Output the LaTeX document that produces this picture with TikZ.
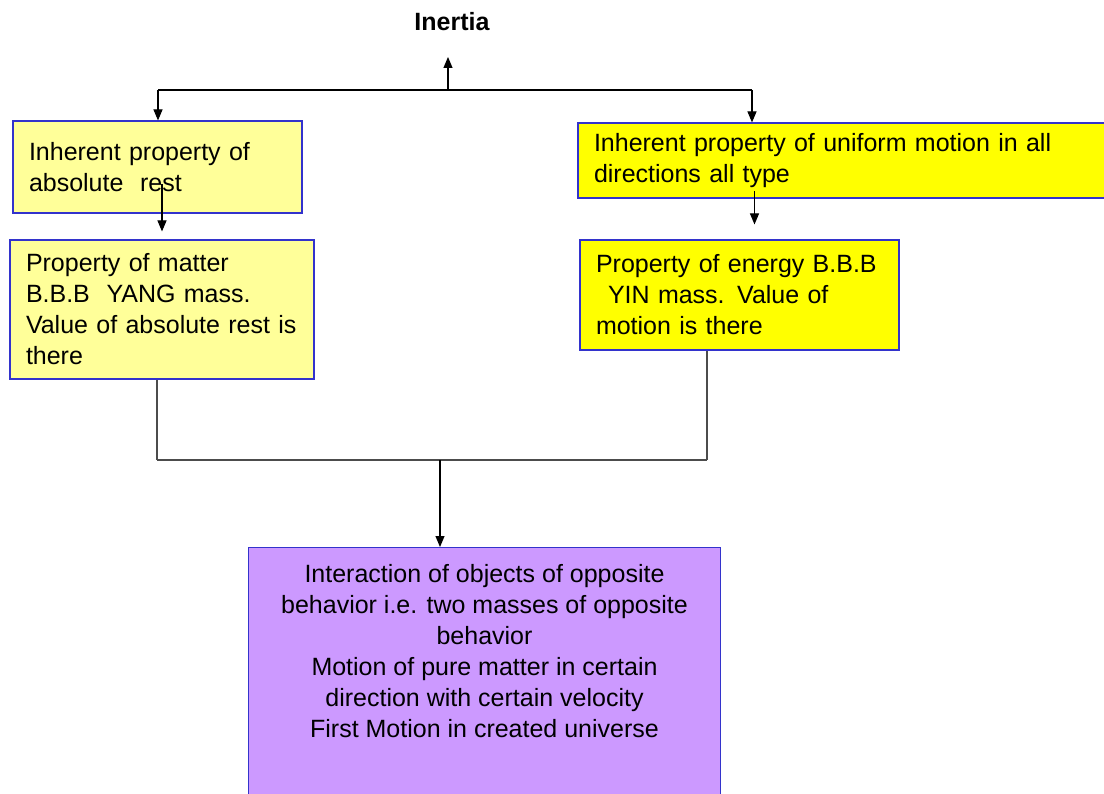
\documentclass[tikz,border=0pt]{standalone}
\usepackage{fontspec}
\setmainfont{Liberation Sans}
\usetikzlibrary{arrows.meta}
\definecolor{paleyellow}{RGB}{255,255,153}
\definecolor{brightyellow}{RGB}{255,255,0}
\definecolor{boxblue}{RGB}{51,51,204}
\definecolor{lilac}{RGB}{204,153,255}

\begin{document}
\begin{tikzpicture}[x=1pt,y=-1pt,
		box/.style={draw=boxblue, line width=1.1pt, inner xsep=16pt, inner ysep=4pt,
			align=left, font=\fontsize{25pt}{31pt}\selectfont},
		arr/.style={-{Triangle[length=11pt,width=9pt]}, line width=1.1pt},
		link/.style={line width=1.1pt, black!70}]

				% Page frame
				\useasboundingbox (0,0) rectangle (1104,794);
				\clip (0,0) rectangle (1104,794);
				\fill[white] (0,0) rectangle (1104,794);

				% Title
				\node[font=\fontsize{25pt}{30pt}\selectfont\bfseries] (title) at (452,22) {Inertia};

				% Upper boxes
				\node[box, fill=paleyellow, minimum width=289pt, minimum height=92pt, text width=257pt]
					(rest) at (157.5,167) {Inherent property of\\absolute~~rest};
				\node[box, fill=brightyellow, minimum width=542pt, minimum height=75pt, text width=510pt]
					(uniform) at (849,160.5) {Inherent property of uniform motion in all\\directions all type};

				% Lower boxes
				\node[box, fill=paleyellow, minimum width=304pt, minimum height=139pt, text width=272pt]
					(matter) at (162,309.5) {Property of matter\\B.B.B~~YANG mass.\\Value of absolute rest is\\there};
				\node[box, fill=brightyellow, minimum width=319pt, minimum height=110pt, text width=287pt]
					(energy) at (739.5,295) {Property of energy B.B.B\\\hspace*{12pt}YIN mass. Value of\\motion is there};

				% Result box
				\node[box, fill=lilac, anchor=north, minimum width=469pt, inner ysep=17pt]
					(interact) at (484.5,547) {\parbox[t][250pt][t]{440pt}{\centering
					Interaction of objects of opposite\\behavior i.e. two masses of opposite\\behavior\\
					Motion of pure matter in certain\\direction with certain velocity\\First Motion in created universe}};

				% Top branching
				\coordinate (tl) at (158,90);
				\coordinate (tr) at (752,90);
				\coordinate (tm) at (448,90);
				\coordinate (titletip) at (448,57);
				\draw[line width=2.2pt] (tl) -- (tr);
				\draw[arr] (tm) -- (titletip);
				\draw[arr] (tl) -- (tl |- rest.north);
				\draw[arr] (tr) -- (tr |- uniform.north);

				% Arrows between the boxes
				\draw[arr] ([yshift=55pt]matter.north) -- ([yshift=8pt]matter.north);
				\draw[arr] ([xshift=15pt,yshift=48pt]energy.north) -- ([xshift=15pt,yshift=15pt]energy.north);

				% Bottom joining
				\coordinate (bl) at (157,460);
				\coordinate (br) at (707,460);
				\coordinate (bm) at (440,460);
				\draw[link] (bl |- matter.south) -- (bl);
				\draw[link] (br |- energy.south) -- (br);
				\draw[link, line width=2.4pt] (bl) -- (br);
				\draw[arr] (bm) -- (bm |- interact.north);

			\end{tikzpicture}
\end{document}
